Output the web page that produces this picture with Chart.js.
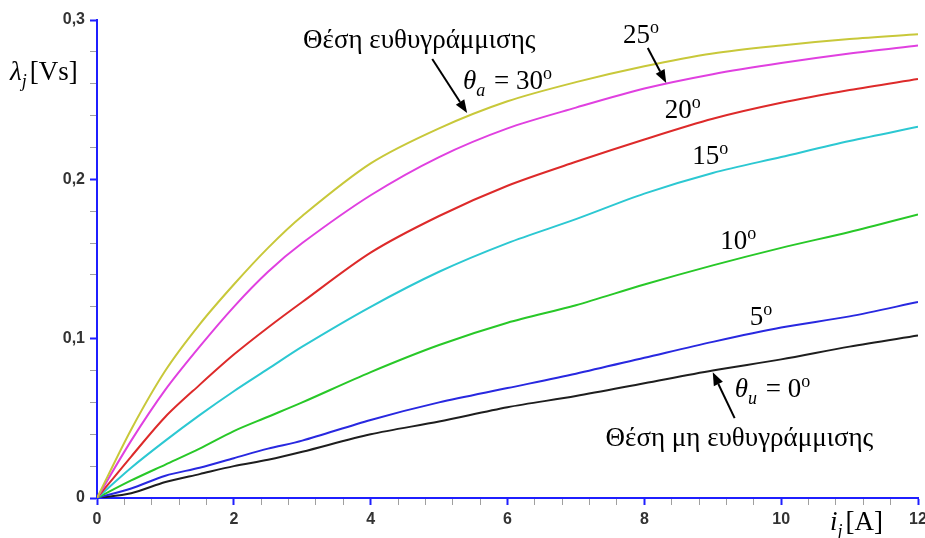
<!DOCTYPE html>
<html>
<head>
<meta charset="utf-8">
<script src="https://cdn.jsdelivr.net/npm/chart.js@4/dist/chart.umd.min.js"></script>
<style>
  html, body { margin: 0; padding: 0; background: #ffffff; }
  #wrap { width: 925px; height: 538px; }
</style>
</head>
<body>
<div id="wrap"><canvas id="chart" width="925" height="538"></canvas></div>
<script>
// Phase current i_j [A]
const current = [0, 0.5, 1, 1.5, 2, 2.5, 3, 4, 5, 6, 7, 8, 9, 10, 11, 12];

// Flux linkage λ_j [Vs] for each rotor position θ
const flux30 = [0, 0.043, 0.080, 0.109, 0.134, 0.157, 0.177, 0.210, 0.232, 0.249, 0.261, 0.271, 0.279, 0.284, 0.288, 0.291];
const flux25 = [0, 0.036, 0.068, 0.095, 0.120, 0.142, 0.160, 0.190, 0.214, 0.232, 0.245, 0.257, 0.266, 0.273, 0.279, 0.284];
const flux20 = [0, 0.026, 0.051, 0.071, 0.090, 0.107, 0.123, 0.154, 0.177, 0.196, 0.211, 0.225, 0.238, 0.248, 0.256, 0.263];
const flux15 = [0, 0.019, 0.036, 0.052, 0.067, 0.081, 0.095, 0.120, 0.142, 0.160, 0.175, 0.191, 0.204, 0.214, 0.224, 0.233];
const flux10 = [0, 0.011, 0.021, 0.031, 0.042, 0.051, 0.060, 0.079, 0.096, 0.110, 0.121, 0.134, 0.146, 0.157, 0.167, 0.178];
const flux5  = [0, 0.006, 0.014, 0.019, 0.025, 0.031, 0.036, 0.049, 0.060, 0.069, 0.078, 0.088, 0.098, 0.107, 0.114, 0.123];
const flux0  = [0, 0.003, 0.010, 0.015, 0.020, 0.024, 0.029, 0.040, 0.048, 0.057, 0.064, 0.072, 0.080, 0.087, 0.095, 0.102];

const positions = ['30°', '25°', '20°', '15°', '10°', '5°', '0°'];
const seriesList = [flux30, flux25, flux20, flux15, flux10, flux5, flux0];
const colours = ['#c8c83a', '#e040e0', '#dd2a2a', '#2cc8d2', '#28c828', '#2828e0', '#1e1e1e'];

// Axis ranges and tick steps
const xMax = 12, xMinorStep = 0.4, xMajorStep = 2;
const yMax = 0.3, yMinorStep = 0.02, yMajorStep = 0.1;

const AXIS_BLUE = '#1f1fff';
const MINOR_GREY = '#a0a0a0';
const SERIF = '"Liberation Serif", "Times New Roman", serif';
const BASE = 27;   // annotation font size
const SMALL = 18;  // sub/superscript size

function isMultiple(v, step) {
  const r = v / step;
  return Math.abs(r - Math.round(r)) < 1e-6;
}

const datasets = seriesList.map((vals, k) => ({
  label: positions[k],
  data: current.map((x, n) => ({ x: x, y: vals[n] })),
  borderColor: colours[k],
  borderWidth: 2,
  pointRadius: 0,
  fill: false,
  tension: 0.3
}));

// Draws a run of text pieces (normal, italic, sub/superscript) starting at (x, baseline)
function richText(ctx, x, y, parts) {
  let cx = x;
  parts.forEach(p => {
    const size = p.size || BASE;
    ctx.font = (p.italic ? 'italic ' : '') + size + 'px ' + SERIF;
    ctx.fillText(p.t, cx, y + (p.dy || 0));
    cx += ctx.measureText(p.t).width + (p.gap || 0);
  });
}

function arrow(ctx, x1, y1, x2, y2) {
  const ang = Math.atan2(y2 - y1, x2 - x1);
  const head = 13, half = 5;
  const bx = x2 - head * Math.cos(ang), by = y2 - head * Math.sin(ang);
  ctx.beginPath();
  ctx.moveTo(x1, y1);
  ctx.lineTo(bx, by);
  ctx.lineWidth = 2;
  ctx.strokeStyle = '#000';
  ctx.stroke();
  ctx.beginPath();
  ctx.moveTo(x2, y2);
  ctx.lineTo(bx + half * Math.sin(ang), by - half * Math.cos(ang));
  ctx.lineTo(bx - half * Math.sin(ang), by + half * Math.cos(ang));
  ctx.closePath();
  ctx.fillStyle = '#000';
  ctx.fill();
}

const sup = t => ({ t: t, size: SMALL, dy: -10 });
const sub = t => ({ t: t, italic: true, size: SMALL, dy: 7, gap: 2 });

const annotationPlugin = {
  id: 'curveNotes',
  afterDraw(chart) {
    const ctx = chart.ctx;
    const xs = chart.scales.x, ys = chart.scales.y;
    const px = v => xs.getPixelForValue(v);
    const py = v => ys.getPixelForValue(v);
    const area = chart.chartArea;
    ctx.save();
    ctx.fillStyle = '#000';
    ctx.textBaseline = 'alphabetic';

    // aligned position
    ctx.font = BASE + 'px ' + SERIF;
    ctx.textAlign = 'center';
    ctx.fillText('Θέση ευθυγράμμισης', px(4.71), py(0.2824));
    ctx.textAlign = 'left';
    richText(ctx, px(5.35), py(0.2567), [
      { t: 'θ', italic: true }, sub('a'), { t: ' = 30' }, sup('o')
    ]);
    arrow(ctx, px(4.90), py(0.2755), px(5.41), py(0.2417));

    // intermediate positions
    richText(ctx, px(7.69), py(0.2855), [{ t: '25' }, sup('o')]);
    arrow(ctx, px(8.05), py(0.2824), px(8.32), py(0.2605));
    richText(ctx, px(8.30), py(0.2386), [{ t: '20' }, sup('o')]);
    richText(ctx, px(8.70), py(0.2098), [{ t: '15' }, sup('o')]);
    richText(ctx, px(9.11), py(0.1565), [{ t: '10' }, sup('o')]);
    richText(ctx, px(9.54), py(0.1083), [{ t: '5' }, sup('o')]);

    // unaligned position
    richText(ctx, px(9.32), py(0.0632), [
      { t: 'θ', italic: true }, sub('u'), { t: ' = 0' }, sup('o')
    ]);
    arrow(ctx, px(9.32), py(0.0501), px(9.00), py(0.0789));
    ctx.font = BASE + 'px ' + SERIF;
    ctx.textAlign = 'center';
    ctx.fillText('Θέση μη ευθυγράμμισης', px(9.39), py(0.0326));
    ctx.textAlign = 'left';

    // axis titles
    richText(ctx, area.left - 87, area.top + 60, [
      { t: 'λ', italic: true }, { t: 'j', italic: true, size: SMALL, dy: 7, gap: 3 }, { t: '[Vs]' }
    ]);
    richText(ctx, area.right - 88, area.bottom + 32, [
      { t: 'i', italic: true }, { t: 'j', italic: true, size: SMALL, dy: 7, gap: 3 }, { t: '[A]' }
    ]);
    ctx.restore();
  }
};

const tickFont = { family: '"Liberation Sans", Arial, sans-serif', size: 16, weight: 'bold' };

new Chart(document.getElementById('chart'), {
  type: 'line',
  data: { datasets: datasets },
  plugins: [annotationPlugin],
  options: {
    responsive: false,
    animation: false,
    layout: { padding: { left: 0, top: 20, right: 7, bottom: 0 } },
    plugins: { legend: { display: false }, tooltip: { enabled: false } },
    scales: {
      x: {
        type: 'linear',
        min: 0,
        max: xMax,
        afterFit: s => { s.height = 40; s.paddingLeft = 0; s.paddingRight = 0; },
        border: { color: AXIS_BLUE, width: 2 },
        grid: {
          drawOnChartArea: false,
          drawTicks: true,
          tickLength: 7,
          color: c => (c.tick && isMultiple(c.tick.value, xMajorStep)) ? AXIS_BLUE : MINOR_GREY,
          tickColor: c => (c.tick && isMultiple(c.tick.value, xMajorStep)) ? AXIS_BLUE : MINOR_GREY,
          tickWidth: c => (c.tick && isMultiple(c.tick.value, xMajorStep)) ? 2 : 1
        },
        ticks: {
          stepSize: xMinorStep,
          autoSkip: false,
          maxRotation: 0,
          padding: 5,
          color: '#333',
          font: tickFont,
          callback: v => isMultiple(v, xMajorStep) ? String(Math.round(v)) : ''
        }
      },
      y: {
        type: 'linear',
        min: 0,
        max: yMax,
        afterFit: s => { s.width = 97; },
        border: { color: AXIS_BLUE, width: 2 },
        grid: {
          drawOnChartArea: false,
          drawTicks: true,
          tickLength: 7,
          color: c => (c.tick && isMultiple(c.tick.value, yMajorStep)) ? AXIS_BLUE : MINOR_GREY,
          tickColor: c => (c.tick && isMultiple(c.tick.value, yMajorStep)) ? AXIS_BLUE : MINOR_GREY,
          tickWidth: c => (c.tick && isMultiple(c.tick.value, yMajorStep)) ? 2 : 1
        },
        ticks: {
          stepSize: yMinorStep,
          autoSkip: false,
          padding: 5,
          color: '#333',
          font: tickFont,
          callback: v => {
            if (!isMultiple(v, yMajorStep)) return '';
            return v === 0 ? '0' : v.toFixed(1).replace('.', ',');
          }
        }
      }
    }
  }
});
</script>
</body>
</html>
